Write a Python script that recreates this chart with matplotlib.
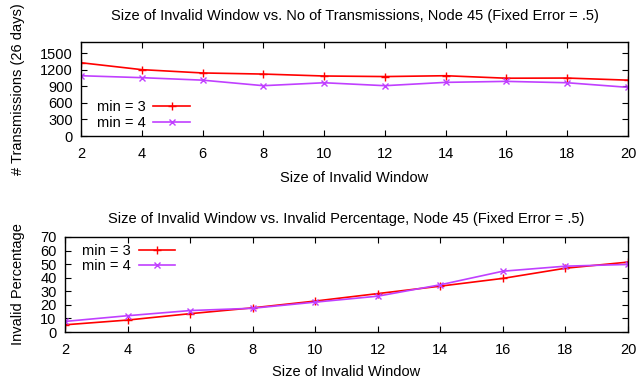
import numpy as np
import matplotlib
matplotlib.use('Agg')
import matplotlib.pyplot as plt

plt.rcParams['font.family'] = ['Liberation Sans', 'DejaVu Sans']
plt.rcParams['font.size'] = 10.5

# window sizes
window = [2, 4, 6, 8, 10, 12, 14, 16, 18, 20]

# transmissions (26 days)
trans_min3 = [1325, 1200, 1140, 1120, 1085, 1075, 1090, 1045, 1048, 1010]
trans_min4 = [1090, 1055, 1010, 910, 963, 910, 970, 988, 963, 880]

# invalid percentage
inv_min3 = [5.3, 8.8, 13.5, 17.8, 22.8, 28.3, 33.8, 39.5, 47.0, 51.5]
inv_min4 = [7.8, 12.0, 15.8, 17.5, 22.0, 26.4, 34.8, 44.8, 48.5, 49.8]

labels = ['min = 3', 'min = 4']
colors = ['#ff0000', '#c040ff']
markers = ['+', 'x']

W, H = 639, 381
fig = plt.figure(figsize=(W / 100, H / 100), dpi=100)


def px_axes(left, top, right, bottom):
    return fig.add_axes([left / W, 1 - bottom / H, (right - left) / W, (bottom - top) / H])


def style(ax):
    ax.tick_params(direction='in', top=True, right=True, length=4, width=0.8)
    ax.tick_params(axis='x', pad=8)
    ax.tick_params(axis='y', pad=6)
    for s in ax.spines.values():
        s.set_linewidth(1.0)
    ax.set_xlim(2, 20)
    ax.set_xticks(window)


def draw(ax, y3, y4):
    ax.plot(window, y3, color=colors[0], marker=markers[0], lw=1.2, ms=6, mew=1.0, label=labels[0])
    ax.plot(window, y4, color=colors[1], marker=markers[1], lw=1.2, ms=5, mew=1.0, label=labels[1])


ax1 = px_axes(81, 42, 628, 136)
draw(ax1, trans_min3, trans_min4)
style(ax1)
ax1.set_ylim(0, 1700)
ax1.set_yticks(np.arange(0, 1501, 300))
ax1.set_title('Size of Invalid Window vs. No of Transmissions, Node 45 (Fixed Error = .5)',
              fontsize=10.5, pad=16)
ax1.set_xlabel('Size of Invalid Window', labelpad=7)
ax1.set_ylabel('# Transmissions (26 days)', labelpad=11)
ax1.legend(loc='upper left', bbox_to_anchor=(0.018, 0.44), frameon=False, markerfirst=False,
           handlelength=2.5, labelspacing=0.1, borderaxespad=0, handletextpad=0.55)

ax2 = px_axes(65, 237, 628, 332)
draw(ax2, inv_min3, inv_min4)
style(ax2)
ax2.set_ylim(0, 70)
ax2.set_yticks(np.arange(0, 71, 10))
ax2.set_title('Size of Invalid Window vs. Invalid Percentage, Node 45 (Fixed Error = .5)',
              fontsize=10.5, pad=10)
ax2.set_xlabel('Size of Invalid Window', labelpad=6)
ax2.set_ylabel('Invalid Percentage', labelpad=11)
ax2.legend(loc='upper left', bbox_to_anchor=(0.0195, 0.99), frameon=False, markerfirst=False,
           handlelength=2.5, labelspacing=0.1, borderaxespad=0, handletextpad=0.55)

fig.savefig('out.png', dpi=100)
